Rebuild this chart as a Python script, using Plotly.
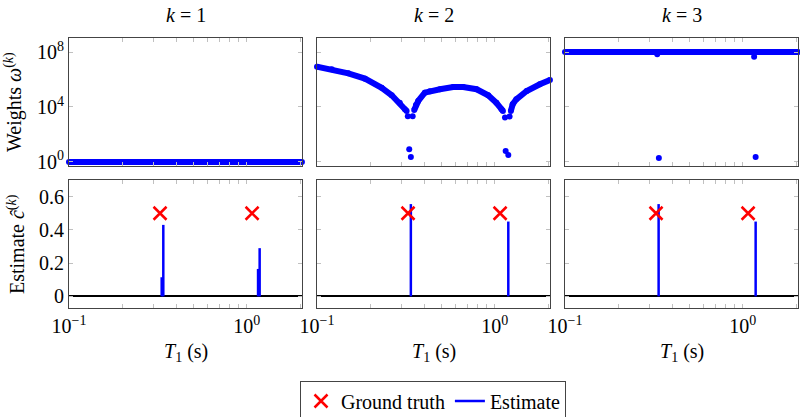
import plotly.graph_objects as go
from plotly.subplots import make_subplots

W, H = 800, 417
FONT = "Liberation Serif"
BLUE = "#0000ff"

# T1 axis range (log10)
X_RANGE = [-1, 0.31]

# --- weights (top row) ---
# k = 1 : flat at 1
w1_x = [0.1, 2.04]
w1_y = [1, 1]

# k = 2 : three branches, dots at the dips, outliers
w2_left_x = [0.100, 0.121, 0.150, 0.186, 0.231, 0.263, 0.292, 0.312, 0.319]
w2_left_y = [8.5e6, 5.5e6, 2.8e6, 1.15e6, 2.5e5, 7.1e4, 2.0e4, 6.8e3, 5.1e3]
w2_mid_x = [0.352, 0.360, 0.371, 0.404, 0.431, 0.491, 0.583, 0.664, 0.789, 0.917, 1.02, 1.09, 1.11]
w2_mid_y = [6.0e3, 1.4e4, 2.75e4, 1.1e5, 1.4e5, 1.95e5, 2.8e5, 2.8e5, 1.95e5, 7.1e4, 2.0e4, 6.8e3, 5.1e3]
w2_right_x = [1.23, 1.26, 1.32, 1.51, 1.79, 2.04]
w2_right_y = [5.1e3, 1.6e4, 3.6e4, 1.45e5, 4.5e5, 9.1e5]
w2_dots_x = [0.324, 0.345, 0.330, 0.337, 1.14, 1.21, 1.15, 1.19]
w2_dots_y = [2.1e3, 2.1e3, 8.3, 2.3, 1.7e3, 2.0e3, 6.3, 3.2]

# k = 3 : flat at 1e8, two small dips and two outliers
w3_x = [0.1, 2.04]
w3_y = [1e8, 1e8]
w3_dots_x = [0.330, 1.157, 0.337, 1.18]
w3_dots_y = [6.8e7, 4.6e7, 1.9, 2.3]

# --- estimates (bottom row) ---
truth_x = [0.325, 1.07]
truth_y = [0.5, 0.5]

est1_x = [0.332, 0.339, 1.156, 1.18]
est1_y = [0.115, 0.43, 0.165, 0.29]
est2_x = [0.337, 1.19]
est2_y = [0.555, 0.45]
est3_x = [0.336, 1.18]
est3_y = [0.555, 0.45]

X_TICKS = [0.1, 1]
X_TEXT = ["10<sup>−1</sup>", "10<sup>0</sup>"]
X_MINOR = [0.2, 0.3, 0.4, 0.5, 0.6, 0.7, 0.8, 0.9, 2]
WT_TICKS = [1, 1e4, 1e8]
WT_TEXT = ["10<sup>0</sup>", "10<sup>4</sup>", "10<sup>8</sup>"]
EST_TICKS = [0, 0.2, 0.4, 0.6]
EST_TEXT = ["0", "0.2", "0.4", "0.6"]


def stems(xs, ys):
    sx, sy = [], []
    for x, y in zip(xs, ys):
        sx += [x, x, None]
        sy += [0, y, None]
    return sx, sy


fig = make_subplots(rows=2, cols=3)

wt_line = dict(mode="lines+markers", line=dict(color=BLUE, width=6),
               marker=dict(color=BLUE, size=6), showlegend=False, cliponaxis=False)
wt_dots = dict(mode="markers", marker=dict(color=BLUE, size=6),
               showlegend=False, cliponaxis=False)

fig.add_trace(go.Scatter(x=w1_x, y=w1_y, **wt_line), row=1, col=1)
fig.add_trace(go.Scatter(x=w2_left_x + [None] + w2_mid_x + [None] + w2_right_x,
                         y=w2_left_y + [None] + w2_mid_y + [None] + w2_right_y,
                         **wt_line), row=1, col=2)
fig.add_trace(go.Scatter(x=w2_dots_x, y=w2_dots_y, **wt_dots), row=1, col=2)
fig.add_trace(go.Scatter(x=w3_x, y=w3_y, **wt_line), row=1, col=3)
fig.add_trace(go.Scatter(x=w3_dots_x, y=w3_dots_y, **wt_dots), row=1, col=3)

for c, (ex, ey) in enumerate([(est1_x, est1_y), (est2_x, est2_y), (est3_x, est3_y)], start=1):
    sx, sy = stems(ex, ey)
    fig.add_trace(go.Scatter(x=sx, y=sy, mode="lines", line=dict(color=BLUE, width=2.5),
                             name="Estimate", showlegend=(c == 1)), row=2, col=c)
    fig.add_trace(go.Scatter(x=truth_x, y=truth_y, mode="markers", name="Ground truth",
                             marker=dict(symbol="x-thin", size=13,
                                         line=dict(width=2.5, color="#ff0000")),
                             showlegend=(c == 1)), row=2, col=c)

# exact panel placement, in pixels
cols_px = [(69, 302), (317, 550), (565, 798)]
rows_px = [(38, 166), (180, 308)]

axis_common = dict(showline=True, linecolor="#444", linewidth=1, mirror="allticks",
                   ticks="inside", tickcolor="#c0c0c0", ticklen=4, showgrid=False,
                   automargin=False,
                   tickfont=dict(family=FONT, size=20, color="black"))

for r in range(2):
    for c in range(3):
        n = r * 3 + c + 1
        xd = [cols_px[c][0] / W, cols_px[c][1] / W]
        yd = [1 - rows_px[r][1] / H, 1 - rows_px[r][0] / H]
        fig.layout[f"xaxis{'' if n == 1 else n}"].update(
            domain=xd, type="log", range=X_RANGE, tickvals=X_TICKS, ticktext=X_TEXT,
            minor=dict(tickvals=X_MINOR, ticks="inside", ticklen=4, tickcolor="#c0c0c0",
                       showgrid=False),
            showticklabels=(r == 1), **axis_common)
        if r == 0:
            fig.layout[f"yaxis{'' if n == 1 else n}"].update(
                domain=yd, type="log", range=[-0.3, 9.02], tickvals=WT_TICKS,
                ticktext=WT_TEXT, showticklabels=(c == 0), **axis_common)
        else:
            fig.layout[f"yaxis{'' if n == 1 else n}"].update(
                domain=yd, range=[-0.07, 0.7], tickvals=EST_TICKS, ticktext=EST_TEXT,
                zeroline=True, zerolinecolor="black", zerolinewidth=1.5,
                showticklabels=(c == 0), **axis_common)


def label(x_px, y_px, text, angle=0):
    return dict(x=x_px / W, y=1 - y_px / H, text=text, textangle=angle,
                xref="paper", yref="paper", xanchor="center", yanchor="middle",
                showarrow=False, font=dict(family=FONT, size=20, color="black"))


annotations = []
for c, (a, b) in enumerate(cols_px, start=1):
    annotations.append(label((a + b) / 2, 15, f"<i>k</i> = {c}"))
    annotations.append(label((a + b) / 2, 352, "<i>T</i><sub>1</sub> (s)"))
annotations.append(label(13, 102, "Weights <i>ω</i><sup>(<i>k</i>)</sup>", -90))
annotations.append(label(16, 244, "Estimate <i>ĉ</i><sup>(<i>k</i>)</sup>", -90))

fig.update_layout(
    width=W, height=H,
    margin=dict(l=0, r=0, t=0, b=0, autoexpand=False),
    plot_bgcolor="white", paper_bgcolor="white",
    font=dict(family=FONT, size=20, color="black"),
    annotations=annotations,
    legend=dict(orientation="h", x=433 / W, xanchor="center", y=1 - 401 / H,
                yanchor="middle", bordercolor="#444", borderwidth=1, bgcolor="white",
                font=dict(family=FONT, size=20), traceorder="reversed",
                itemwidth=30, tracegroupgap=0),
)

# the page body has a default 8px margin; drop it so the figure fills the window
fig.write_html("out.html", config={"displayModeBar": False},
               post_script="document.body.style.margin='0';")
